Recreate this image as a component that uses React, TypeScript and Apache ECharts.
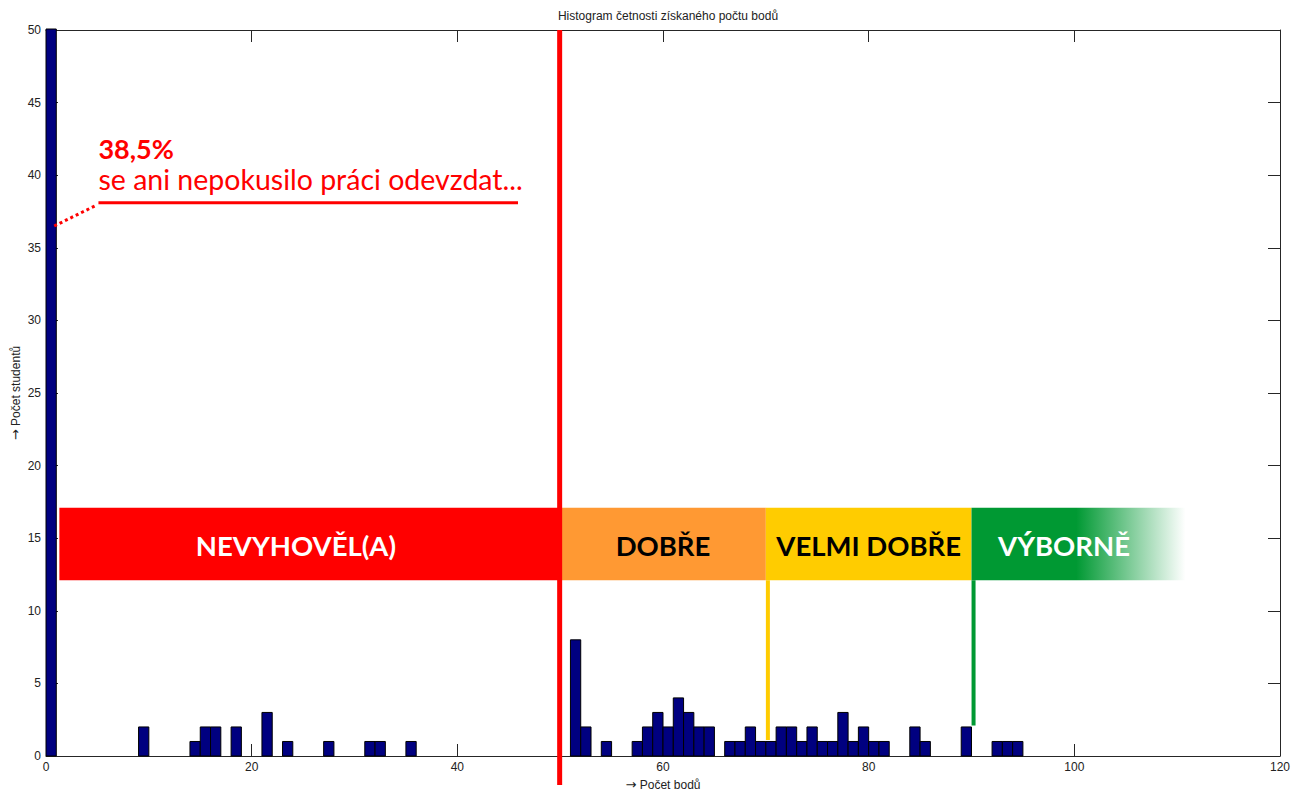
import React, { useEffect, useRef } from "react";
import * as echarts from "echarts";

// Histogram bins: each bin covers [start, start + 1)
const binStarts = [0, 9, 14, 15, 16, 18, 21, 23, 27, 31, 32, 35, 51, 52, 54, 57, 58, 59, 60, 61, 62, 63, 64, 66, 67, 68, 69, 70, 71, 72, 73, 74, 75, 76, 77, 78, 79, 80, 81, 84, 85, 89, 92, 93, 94];
const counts = [52, 2, 1, 2, 2, 2, 3, 1, 1, 1, 1, 1, 8, 2, 1, 1, 2, 3, 2, 4, 3, 2, 2, 1, 1, 2, 1, 1, 2, 2, 1, 2, 1, 1, 3, 1, 2, 1, 1, 2, 1, 2, 1, 1, 1];

const xTicks = [0, 20, 40, 60, 80, 100, 120];
const yTicks = [0, 5, 10, 15, 20, 25, 30, 35, 40, 45, 50];

// Grade bands
const bandNames = ["NEVYHOVĚL(A)", "DOBŘE", "VELMI DOBŘE", "VÝBORNĚ"];
const bandFrom = [1.3, 50, 70, 90];
const bandTo = [50, 70, 90, 110.8];
const bandLabelX = [24.3, 60, 80, 99];
const bandLow = 12.1;
const bandHigh = 17.1;

// Grade boundary lines
const lineX = [49.95, 70.2, 90.2];
const lineTop = [50, 12.1, 12.1];
const lineBottom = [-2, 1.1, 2.1];

// Annotation
const annoPercent = "38,5%";
const annoText = "se ani nepokusilo práci odevzdat...";
const annoDotFrom = [0.8, 36.5];
const annoDotTo = [4.8, 37.9];
const annoLineFrom = [5.1, 38.1];
const annoLineTo = [45.9, 38.1];
const annoPercentPos = [5.1, 41.85];
const annoTextPos = [5.1, 39.75];

const bandFill = ["#ff0000", "#ff9933", "#ffcc00", "green"];
const bandTextColor = ["#ffffff", "#000000", "#000000", "#ffffff"];
const lineColor = ["#ff0000", "#ffcc00", "#009933"];
const lineWidth = [5, 4, 4];

const AX = "#262626";
const LABEL_FONT = "Liberation Sans, Arial, sans-serif";
const ANNO_FONT = "Lato, 'Open Sans', sans-serif";

export default function App() {
  const ref = useRef<HTMLDivElement>(null);
  useEffect(() => {
    if (!ref.current) return;
    const chart = echarts.init(ref.current, undefined, { renderer: "svg" });

    const barData = binStarts.map((s, i) => [s, counts[i]]);
    const bandData = bandNames.map((_, i) => [bandFrom[i], bandTo[i], bandLabelX[i], bandLow, bandHigh, i]);
    const lineData = lineX.map((x, i) => [x, lineTop[i], lineBottom[i], i]);

    const axisCommon = {
      axisLine: { show: true, onZero: false, lineStyle: { color: AX, width: 1 } },
      axisTick: { show: true, inside: true, length: 12, lineStyle: { color: AX } },
      splitLine: { show: false },
    };

    const nameRich = {
      arr: { fontFamily: "DejaVu Sans", fontSize: 13, color: "#222" },
      t: { fontFamily: LABEL_FONT, fontSize: 12, color: "#222" },
    };

    const option: any = {
      animation: false,
      title: {
        text: "Histogram četnosti získaného počtu bodů",
        left: 663,
        textAlign: "center",
        top: 5,
        textStyle: { fontFamily: LABEL_FONT, fontSize: 12, fontWeight: "normal", color: "#222" },
      },
      grid: { left: 46, right: 11, top: 30, bottom: 35, containLabel: false, outerBoundsMode: "none" },
      xAxis: [
        {
          type: "value",
          min: 0,
          max: 120,
          interval: 20,
          position: "bottom",
          ...axisCommon,
          axisLabel: { color: "#222", fontFamily: LABEL_FONT, fontSize: 12, margin: 5 },
          name: "{arr|→} {t|Počet bodů}",
          nameLocation: "middle",
          nameGap: 22,
          nameTextStyle: { color: "#222", fontFamily: LABEL_FONT, fontSize: 12, rich: nameRich },
        },
        {
          type: "value",
          min: 0,
          max: 120,
          interval: 20,
          position: "top",
          ...axisCommon,
          axisLabel: { show: false },
        },
      ],
      yAxis: [
        {
          type: "value",
          min: 0,
          max: 50,
          interval: 5,
          position: "left",
          ...axisCommon,
          axisLabel: { color: "#222", fontFamily: LABEL_FONT, fontSize: 12, margin: 5 },
          name: "{arr|→} {t|Počet studentů}",
          nameLocation: "middle",
          nameGap: 24,
          nameMoveOverlap: false,
          nameTextStyle: { color: "#222", fontFamily: LABEL_FONT, fontSize: 12, rich: nameRich },
        },
        {
          type: "value",
          min: 0,
          max: 50,
          interval: 5,
          position: "right",
          ...axisCommon,
          axisLabel: { show: false },
        },
      ],
      series: [
        {
          type: "custom",
          name: "hist",
          xAxisIndex: 0,
          yAxisIndex: 0,
          z: 2,
          data: barData,
          encode: { x: 0, y: 1 },
          renderItem: (params: any, api: any) => {
            const x0 = api.value(0);
            const c = api.value(1);
            const p0 = api.coord([x0, 0]);
            const p1 = api.coord([x0 + 1, c]);
            const cs = params.coordSys;
            const rect = echarts.graphic.clipRectByRect(
              { x: p0[0], y: p1[1], width: p1[0] - p0[0], height: p0[1] - p1[1] },
              { x: cs.x, y: cs.y - 1, width: cs.width, height: cs.height + 1 }
            );
            if (!rect) return null;
            return {
              type: "rect",
              shape: rect,
              style: { fill: "#000080", stroke: "#000000", lineWidth: 1 },
            };
          },
        },
        {
          type: "custom",
          name: "bands",
          xAxisIndex: 0,
          yAxisIndex: 0,
          z: 3,
          data: bandData,
          encode: { x: [0, 1], y: [3, 4] },
          renderItem: (params: any, api: any) => {
            const i = api.value(5);
            const a = api.coord([api.value(0), api.value(4)]);
            const b = api.coord([api.value(1), api.value(3)]);
            const lx = api.coord([api.value(2), (api.value(3) + api.value(4)) / 2]);
            let fill: any = bandFill[i];
            if (i === 3) {
              fill = new echarts.graphic.LinearGradient(0, 0, 1, 0, [
                { offset: 0, color: "#009933" },
                { offset: 0.49, color: "#009933" },
                { offset: 1, color: "rgba(255,255,255,1)" },
              ]);
            }
            return {
              type: "group",
              children: [
                {
                  type: "rect",
                  shape: { x: a[0], y: a[1], width: b[0] - a[0], height: b[1] - a[1] },
                  style: { fill },
                },
                {
                  type: "text",
                  x: lx[0],
                  y: lx[1] + 1,
                  style: {
                    text: bandNames[i],
                    fill: bandTextColor[i],
                    fontFamily: ANNO_FONT,
                    fontWeight: "bold",
                    fontSize: 27.5,
                    align: "center",
                    verticalAlign: "middle",
                  },
                },
              ],
            };
          },
        },
        {
          type: "custom",
          name: "lines",
          xAxisIndex: 0,
          yAxisIndex: 0,
          z: 4,
          clip: false,
          data: lineData,
          encode: { x: 0, y: [1, 2] },
          renderItem: (params: any, api: any) => {
            const i = api.value(3);
            const t = api.coord([api.value(0), api.value(1)]);
            const b = api.coord([api.value(0), api.value(2)]);
            const w = lineWidth[i];
            return {
              type: "rect",
              shape: { x: t[0] - w / 2, y: t[1], width: w, height: b[1] - t[1] },
              style: { fill: lineColor[i] },
            };
          },
        },
        {
          type: "custom",
          name: "annotation",
          xAxisIndex: 0,
          yAxisIndex: 0,
          z: 5,
          clip: false,
          data: [[annoDotFrom[0], annoDotFrom[1], annoDotTo[0], annoDotTo[1]]],
          encode: { x: [0, 2], y: [1, 3] },
          renderItem: (params: any, api: any) => {
            const d0 = api.coord(annoDotFrom);
            const d1 = api.coord(annoDotTo);
            const l0 = api.coord(annoLineFrom);
            const l1 = api.coord(annoLineTo);
            const pp = api.coord(annoPercentPos);
            const tp = api.coord(annoTextPos);
            return {
              type: "group",
              children: [
                {
                  type: "line",
                  shape: { x1: d0[0], y1: d0[1], x2: d1[0], y2: d1[1] },
                  style: { stroke: "#ff0000", lineWidth: 3, lineDash: [3, 3] },
                },
                {
                  type: "line",
                  shape: { x1: l0[0], y1: l0[1], x2: l1[0], y2: l1[1] },
                  style: { stroke: "#ff0000", lineWidth: 3 },
                },
                {
                  type: "text",
                  x: pp[0],
                  y: pp[1],
                  style: {
                    text: annoPercent,
                    fill: "#ff0000",
                    fontFamily: ANNO_FONT,
                    fontWeight: "bold",
                    fontSize: 27,
                    align: "left",
                    verticalAlign: "middle",
                  },
                },
                {
                  type: "text",
                  x: tp[0],
                  y: tp[1],
                  style: {
                    text: annoText,
                    fill: "#ff0000",
                    fontFamily: ANNO_FONT,
                    fontSize: 28.5,
                    align: "left",
                    verticalAlign: "middle",
                  },
                },
              ],
            };
          },
        },
      ],
    };

    chart.setOption(option);
    return () => chart.dispose();
  }, []);

  return (
    <div
      ref={ref}
      style={{ position: "absolute", left: 0, top: 0, width: 1291, height: 791, background: "#ffffff" }}
    />
  );
}
